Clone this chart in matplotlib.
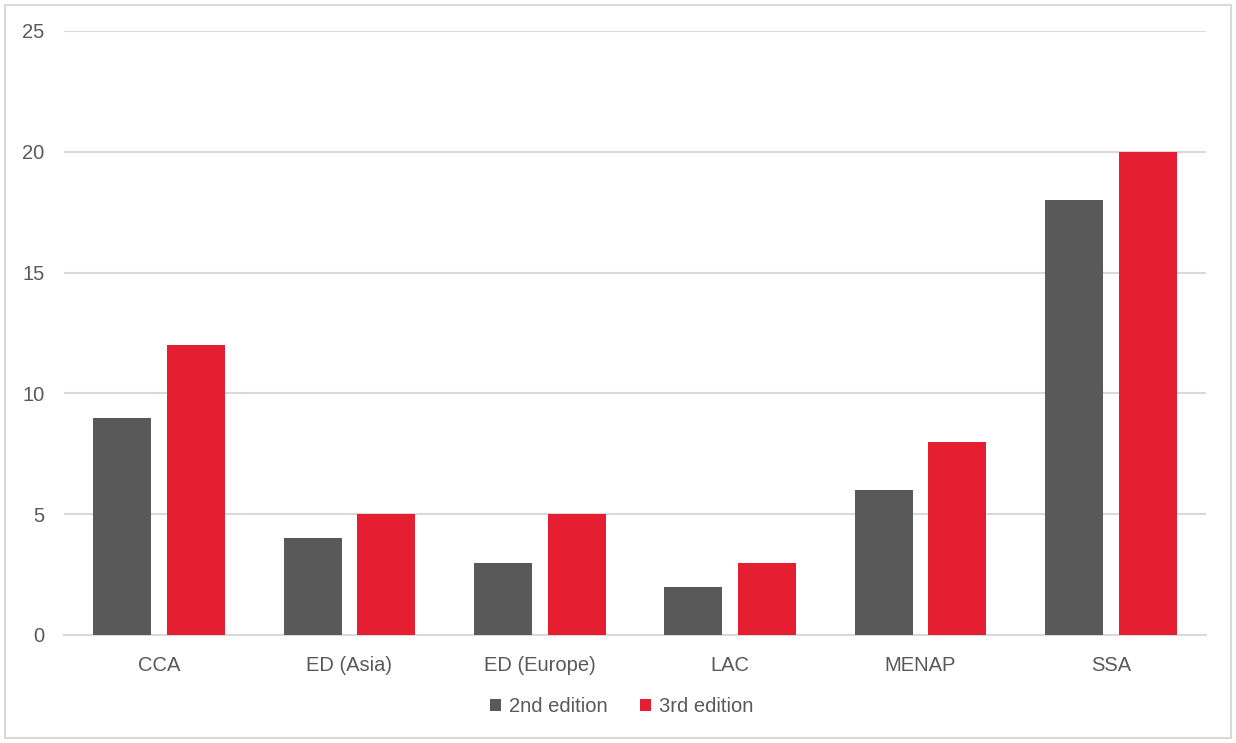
import matplotlib.pyplot as plt
import numpy as np
from matplotlib.patches import Rectangle

plt.rcParams['font.family'] = ['Liberation Sans', 'DejaVu Sans']

categories = ['CCA', 'ED (Asia)', 'ED (Europe)', 'LAC', 'MENAP', 'SSA']
second_edition = [9, 4, 3, 2, 6, 18]
third_edition = [12, 5, 5, 3, 8, 20]
series_names = ['2nd edition', '3rd edition']

gray = '#595959'
red = '#e61e31'
text_color = '#595959'
grid_color = '#d9d9d9'

fig = plt.figure(figsize=(12.36, 7.43), dpi=100)
fig.patches.append(Rectangle((5 / 1236, 5 / 743), 1226 / 1236, 733 / 743,
                             transform=fig.transFigure, fill=False,
                             edgecolor=grid_color, linewidth=1.5))

ax = fig.add_axes([64 / 1236, 1 - 635 / 743, (1206 - 64) / 1236, (635 - 31) / 743])

x = np.arange(len(categories))
width = 0.305
offset = 0.194
ax.bar(x - offset, second_edition, width, color=gray, label=series_names[0], zorder=3)
ax.bar(x + offset, third_edition, width, color=red, label=series_names[1], zorder=3)

ax.set_xlim(-0.5, len(categories) - 0.5)
ax.set_ylim(0, 25)
ax.set_yticks([0, 5, 10, 15, 20, 25])
ax.yaxis.grid(True, color=grid_color, linewidth=1.5, zorder=0)
ax.set_axisbelow(True)

for s in ['top', 'right', 'left']:
    ax.spines[s].set_visible(False)
ax.spines['bottom'].set_color(grid_color)
ax.spines['bottom'].set_linewidth(1.5)

ax.set_xticks(x)
ax.set_xticklabels(categories)
ax.tick_params(axis='both', length=0, labelsize=14.5, colors=text_color)
ax.tick_params(axis='x', pad=15)
ax.tick_params(axis='y', pad=14)

leg = fig.legend(loc='center', bbox_to_anchor=(622 / 1236, 1 - 707 / 743), ncol=2,
                 frameon=False, fontsize=14.5, handlelength=0.55, handleheight=0.55,
                 handletextpad=0.4, columnspacing=1.6)
for t in leg.get_texts():
    t.set_color(text_color)

plt.savefig('out.png', dpi=100)
